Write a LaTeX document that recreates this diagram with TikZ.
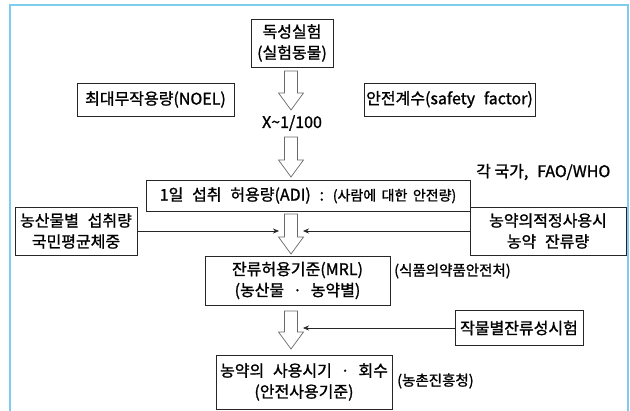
\documentclass[tikz,border=0pt]{standalone}
\usepackage{fontspec}
\setmainfont{Noto Sans CJK KR}[FakeBold=1.2]
\usetikzlibrary{calc,arrows.meta}
\definecolor{frameblue}{RGB}{125,205,240}
\definecolor{harrgray}{RGB}{105,105,105}
\newcommand\hollowarrow[2]{\path[harr] let \p1=(#1), \p2=(#2) in
  (\x1-6.5pt,\y1) -- (\x1+6.5pt,\y1) -- (\x1+6.5pt,\y2+17pt) -- (\x1+12.5pt,\y2+17pt)
  -- (\x1,\y2) -- (\x1-12.5pt,\y2+17pt) -- (\x1-6.5pt,\y2+17pt) -- cycle;}
\newcommand\gap{\hspace{0.55em}}
\begin{document}
\begin{tikzpicture}[x=1pt,y=-1pt,
  box/.style={draw=black!85, line width=0.8pt, inner sep=0pt, align=center,
    font=\fontsize{16}{21}\selectfont},
  lbl/.style={inner sep=0pt, font=\fontsize{16}{21}\selectfont},
  smalllbl/.style={inner sep=0pt, font=\fontsize{14.5}{18}\selectfont},
  harr/.style={draw=harrgray, line width=0.7pt, fill=white, line join=miter},
  conn/.style={draw=black!85, line width=0.6pt, -{Stealth[length=6pt,width=5pt]}}]
\useasboundingbox (0,0) rectangle (630,411);
\draw[frameblue, line width=2pt] (10,415) -- (10,5) -- (628,5) -- (628,415);

% boxes
\node[box, minimum width=82pt, minimum height=48pt] (top) at (292,43) {독성실험\\(실험동물)};
\node[box, minimum width=157pt, minimum height=33pt] (noel) at (155.5,99.5) {최대무작용량(NOEL)};
\node[box, minimum width=171pt, minimum height=33pt] (safety) at (449.5,99.5) {안전계수(safety\gap factor)};
\node[lbl] (factor) at (292,123) {X\textasciitilde 1/100};
\node[box, minimum width=324pt, minimum height=31pt] (adi) at (308,195.5)
  {1일\gap 섭취\gap 허용량(ADI)\gap :\gap {\fontsize{14}{16}\selectfont(사람에\, 대한\, 안전량)}};
\node[lbl, anchor=west] (who) at (476,172) {각 국가,\gap FAO/WHO};
\node[box, minimum width=122pt, minimum height=48pt] (intake) at (76,231) {농산물별\gap 섭취량\\국민평균체중};
\node[box, minimum width=156pt, minimum height=48pt] (resid) at (548,231) {농약의적정사용시\\농약\gap 잔류량};
\node[box, minimum width=185pt, minimum height=49pt] (mrl) at (297.5,280.5) {잔류허용기준(MRL)\\(농산물\gap ·\gap 농약별)};
\node[smalllbl, anchor=west] (mfds) at (394,271) {(식품의약품안전처)};
\node[box, minimum width=128pt, minimum height=35pt] (crop) at (519,328) {작물별잔류성시험};
\node[box, minimum width=176pt, minimum height=54pt] (use) at (304,382) {농약의\gap 사용시기\gap ·\gap 회수\\(안전사용기준)};
\node[smalllbl, anchor=west] (rda) at (397,381) {(농촌진흥청)};

% hollow arrows
\coordinate (a1s) at (291,71);  \coordinate (a1e) at (291,110);
\coordinate (a2s) at (291,137); \coordinate (a2e) at (291,177);
\coordinate (a3s) at (291,214); \coordinate (a3e) at (291,254);
\coordinate (a4s) at (291,311); \coordinate (a4e) at (291,349);
\hollowarrow{a1s}{a1e}
\hollowarrow{a2s}{a2e}
\hollowarrow{a3s}{a3e}
\hollowarrow{a4s}{a4e}

% thin connectors
\coordinate (l3) at (279,231);
\coordinate (r3) at (303,231);
\coordinate (r4) at (303,328);
\draw[conn] (intake) -- (l3);
\draw[conn] (resid) -- (r3);
\draw[conn] (crop) -- (r4);
\end{tikzpicture}
\end{document}
